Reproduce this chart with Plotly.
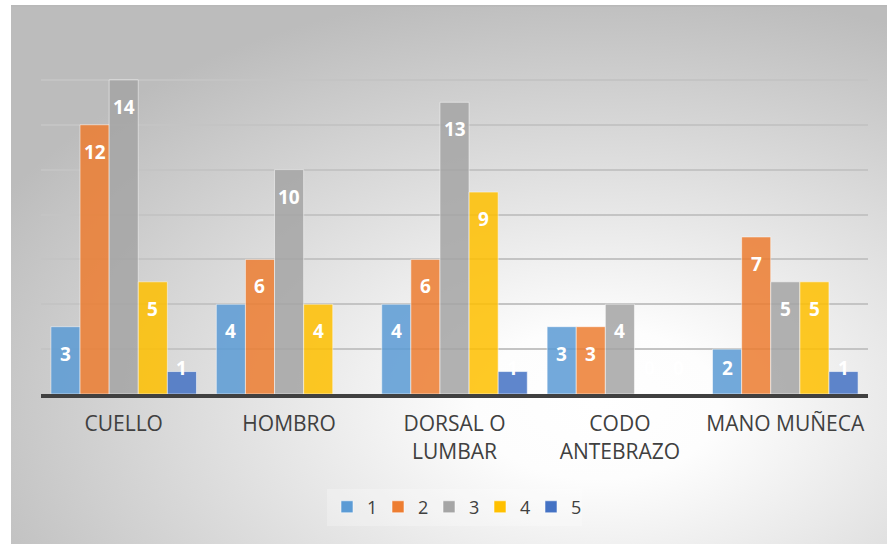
import urllib.parse
import plotly.graph_objects as go

# Body regions and the count for each rating 1..5
categories = ["CUELLO", "HOMBRO", "DORSAL O<br>LUMBAR", "CODO<br>ANTEBRAZO", "MANO MUÑECA"]
series_names = ["1", "2", "3", "4", "5"]
s1 = [3, 4, 4, 3, 2]
s2 = [12, 6, 6, 3, 7]
s3 = [14, 10, 13, 4, 5]
s4 = [5, 4, 9, 0, 5]
s5 = [1, None, 1, 0, 1]
series_values = [s1, s2, s3, s4, s5]
colors = ["#5B9BD5", "#ED7D31", "#A5A5A5", "#FFC000", "#4472C4"]
y_ticks = [0, 2, 4, 6, 8, 10, 12, 14, 16]

FONT = "Open Sans"
TEXT_COLOR = "#404040"
BARGAP = 0.12
Y_MAX = 16

L, R, T, B = 41, 19, 35, 150
W, H = 887, 544
pw, ph = W - L - R, H - T - B
px_per_unit = ph / Y_MAX

fig = go.Figure()
for name, vals, col in zip(series_names, series_values, colors):
    fig.add_trace(go.Bar(
        name=name,
        x=categories,
        y=vals,
        marker=dict(color=col, opacity=0.85,
                    line=dict(color="rgba(255,255,255,0.55)", width=1)),
        hoverinfo="x+y+name",
    ))

# Value labels: "inside end" of each bar, kept clear of the axis line
n = len(series_values)
slot = (1 - BARGAP) / n
label_drop = 27 / px_per_unit      # distance below the bar top
label_floor = 26 / px_per_unit     # lowest allowed label centre
for i, vals in enumerate(series_values):
    for j, v in enumerate(vals):
        if v is None:
            continue
        fig.add_annotation(
            x=j + (i - (n - 1) / 2) * slot,
            y=max(v - label_drop, label_floor),
            xref="x", yref="y",
            text=f"<b>{v}</b>", showarrow=False,
            xanchor="center", yanchor="middle",
            font=dict(family=FONT, size=19, color="white"),
        )

# Radial-gradient chart background drawn as an inline SVG image
svg = (
    "<svg xmlns='http://www.w3.org/2000/svg' width='876' height='539' "
    "viewBox='0 0 876 539' preserveAspectRatio='none'>"
    "<defs><radialGradient id='g' cx='0.67' cy='0.74' r='0.78' "
    "gradientUnits='objectBoundingBox'>"
    "<stop offset='0' stop-color='#ffffff'/>"
    "<stop offset='0.18' stop-color='#fdfdfd'/>"
    "<stop offset='1' stop-color='#bcbcbc'/>"
    "</radialGradient></defs>"
    "<rect x='0' y='0' width='876' height='539' fill='url(#g)'/>"
    "<line x1='0' y1='0.75' x2='876' y2='0.75' stroke='#b8b8b8' stroke-width='1.5'/>"
    "</svg>"
)
src = "data:image/svg+xml;charset=utf-8," + urllib.parse.quote(svg)
fig.add_layout_image(
    source=src, xref="paper", yref="paper",
    x=(11 - L) / pw, y=(H - B - 5) / ph,
    sizex=(W - 11) / pw, sizey=(H - 5) / ph,
    xanchor="left", yanchor="top", sizing="stretch", layer="below",
)

fig.update_layout(
    width=W, height=H,
    margin=dict(l=L, r=R, t=T, b=B),
    paper_bgcolor="white",
    plot_bgcolor="rgba(0,0,0,0)",
    barmode="group",
    bargap=BARGAP,
    bargroupgap=0,
    font=dict(family=FONT, color=TEXT_COLOR),
    showlegend=True,
    legend=dict(
        orientation="h", x=0.5, xanchor="center", y=-0.315, yanchor="middle",
        font=dict(family=FONT, size=18, color=TEXT_COLOR),
        bgcolor="rgba(255,255,255,0.25)",
        itemwidth=30, entrywidth=6, traceorder="normal",
    ),
    xaxis=dict(
        showgrid=False, showline=True, linecolor="#404040", linewidth=4,
        ticks="", tickfont=dict(family=FONT, size=21, color=TEXT_COLOR),
        ticklabelstandoff=8,
    ),
    yaxis=dict(
        range=[0, Y_MAX], tickvals=y_ticks, showticklabels=False,
        showgrid=True, gridcolor="#c4c4c4", gridwidth=1.5,
        zeroline=False, showline=False,
    ),
)

fig.write_html("out.html")
